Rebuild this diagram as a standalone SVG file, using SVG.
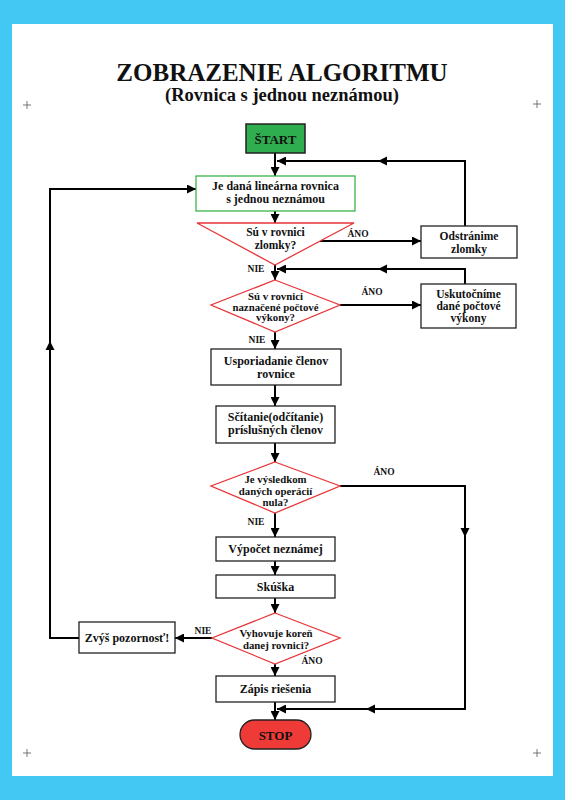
<svg xmlns="http://www.w3.org/2000/svg" width="565" height="800" viewBox="0 0 565 800">
<style>
text{font-family:"Liberation Serif","Times New Roman",serif;font-weight:bold;fill:#111;text-anchor:middle}
.t{font-size:12px}
.s{font-size:11.5px}
.d{font-size:10.8px}
.l{font-size:9.5px}
.box{fill:#fff;stroke:#222;stroke-width:1.3}
.dia{fill:#fff;stroke:#e8363a;stroke-width:1.3}
.c{fill:none;stroke:#000;stroke-width:2}
.cross{stroke:#555;stroke-width:0.8}
</style>
<defs>
<marker id="arr" markerWidth="9" markerHeight="9" refX="9" refY="4.5" orient="auto" markerUnits="userSpaceOnUse">
<path d="M0,0 L9,4.5 L0,9 Z" fill="#000"/>
</marker>
<path id="ah" d="M0,0 L-9,-4.5 L-9,4.5 Z" fill="#000"/>
</defs>
<rect x="0" y="0" width="565" height="800" fill="#42c8f2"/>
<rect x="12" y="24" width="541" height="752" fill="#fff"/>
<g id="marks">
<path class="cross" d="M23,105 H31 M27,101 V109 M533,104 H541 M537,100 V108 M23,753 H31 M27,749 V757 M533,753 H541 M537,749 V757"/>
</g>
<g id="title">
<text x="282" y="81" style="font-size:25px">ZOBRAZENIE ALGORITMU</text>
<text x="282" y="101" style="font-size:18.5px">(Rovnica s jednou neznámou)</text>
</g>
<g id="connectors">
<line class="c" x1="275" y1="153" x2="275" y2="176" marker-end="url(#arr)"/>
<line class="c" x1="275" y1="211" x2="275" y2="223" marker-end="url(#arr)"/>
<line class="c" x1="320" y1="241" x2="421" y2="241" marker-end="url(#arr)"/>
<polyline class="c" points="465,226 465,161 277,161" marker-end="url(#arr)"/>
<use href="#ah" transform="translate(378,161) rotate(180)"/>
<line class="c" x1="275" y1="265" x2="275" y2="280" marker-end="url(#arr)"/>
<polyline class="c" points="465,284 465,269 277,269" marker-end="url(#arr)"/>
<use href="#ah" transform="translate(378,269) rotate(180)"/>
<line class="c" x1="340" y1="305" x2="421" y2="305" marker-end="url(#arr)"/>
<line class="c" x1="275" y1="332" x2="275" y2="349" marker-end="url(#arr)"/>
<line class="c" x1="275" y1="385" x2="275" y2="406" marker-end="url(#arr)"/>
<line class="c" x1="275" y1="443" x2="275" y2="462" marker-end="url(#arr)"/>
<polyline class="c" points="340,486 465,486 465,709 277,709" marker-end="url(#arr)"/>
<use href="#ah" transform="translate(465,537) rotate(90)"/>
<use href="#ah" transform="translate(366,709) rotate(180)"/>
<line class="c" x1="275" y1="513" x2="275" y2="537" marker-end="url(#arr)"/>
<line class="c" x1="275" y1="561" x2="275" y2="575" marker-end="url(#arr)"/>
<line class="c" x1="275" y1="598" x2="275" y2="613" marker-end="url(#arr)"/>
<line class="c" x1="212" y1="638" x2="175" y2="638" marker-end="url(#arr)"/>
<polyline class="c" points="79,638 50,638 50,189 196,189" marker-end="url(#arr)"/>
<use href="#ah" transform="translate(50,341) rotate(-90)"/>
<line class="c" x1="275" y1="664" x2="275" y2="676" marker-end="url(#arr)"/>
<line class="c" x1="275" y1="702" x2="275" y2="720" marker-end="url(#arr)"/>
</g>
<g id="start">
<rect x="246" y="124" width="59" height="29" fill="#2fae4f" stroke="#222" stroke-width="1.5"/>
<text x="275.5" y="143.5" style="font-size:13px">ŠTART</text>
</g>
<g id="given">
<rect x="196" y="176" width="159" height="35" fill="#fff" stroke="#3cb54a" stroke-width="1.3"/>
<text class="t" x="275.5" y="190">Je daná lineárna rovnica</text>
<text class="t" x="275.5" y="203">s jednou neznámou</text>
</g>
<g id="fractions">
<polygon class="dia" points="197,223 354,223 275,265"/>
<text class="s" x="275.5" y="235.5">Sú v rovnici</text>
<text class="s" x="275.5" y="248.5">zlomky?</text>
<text class="l" x="358" y="237">ÁNO</text>
<text class="l" x="256" y="272">NIE</text>
</g>
<g id="remove">
<rect class="box" x="421" y="226" width="96" height="32"/>
<text class="s" x="469" y="240">Odstránime</text>
<text class="s" x="469" y="253">zlomky</text>
</g>
<g id="ops">
<polygon class="dia" points="275,280 340,305 275,332 211,305"/>
<text class="d" x="275.5" y="300">Sú v rovnici</text>
<text class="d" x="275.5" y="310.5">naznačené počtové</text>
<text class="d" x="275.5" y="321">výkony?</text>
<text class="l" x="372" y="295">ÁNO</text>
<text class="l" x="257" y="343">NIE</text>
</g>
<g id="perform">
<rect class="box" x="421" y="284" width="95" height="44"/>
<text class="s" x="468.5" y="297.5">Uskutočníme</text>
<text class="s" x="468.5" y="309.5">dané počtové</text>
<text class="s" x="468.5" y="321.5">výkony</text>
</g>
<g id="arrange">
<rect class="box" x="211" y="349" width="130" height="36"/>
<text class="t" x="276" y="365">Usporiadanie členov</text>
<text class="t" x="276" y="377.5">rovnice</text>
</g>
<g id="add">
<rect class="box" x="216" y="406" width="119" height="37"/>
<text class="t" x="275.5" y="421">Sčítanie(odčítanie)</text>
<text class="t" x="275.5" y="434">príslušných členov</text>
</g>
<g id="zero">
<polygon class="dia" points="275,462 340,486 275,513 211,486"/>
<text class="d" x="275.5" y="483">Je výsledkom</text>
<text class="d" x="275.5" y="495">daných operácií</text>
<text class="d" x="275.5" y="506">nula?</text>
<text class="l" x="384" y="475">ÁNO</text>
<text class="l" x="256" y="525">NIE</text>
</g>
<g id="compute">
<rect class="box" x="216" y="537" width="119" height="24"/>
<text class="t" x="275.5" y="553">Výpočet neznámej</text>
</g>
<g id="check">
<rect class="box" x="216" y="575" width="119" height="23"/>
<text class="t" x="275.5" y="590.5">Skúška</text>
</g>
<g id="fits">
<polygon class="dia" points="275,613 340,638 275,664 212,638"/>
<text class="d" x="276" y="637">Vyhovuje koreň</text>
<text class="d" x="276" y="648.5">danej rovnici?</text>
<text class="l" x="203" y="634">NIE</text>
<text class="l" x="312" y="664">ÁNO</text>
</g>
<g id="attention">
<rect class="box" x="79" y="622" width="96" height="31"/>
<text class="t" x="127" y="641.5">Zvýš pozornosť!</text>
</g>
<g id="write">
<rect class="box" x="216" y="676" width="119" height="26"/>
<text class="t" x="275.5" y="692.5">Zápis riešenia</text>
</g>
<g id="stop">
<rect x="240" y="720" width="71" height="29" rx="14.5" fill="#ee3b37" stroke="#222" stroke-width="1.3"/>
<text x="275.5" y="739.5" style="font-size:13px">STOP</text>
</g>
</svg>
